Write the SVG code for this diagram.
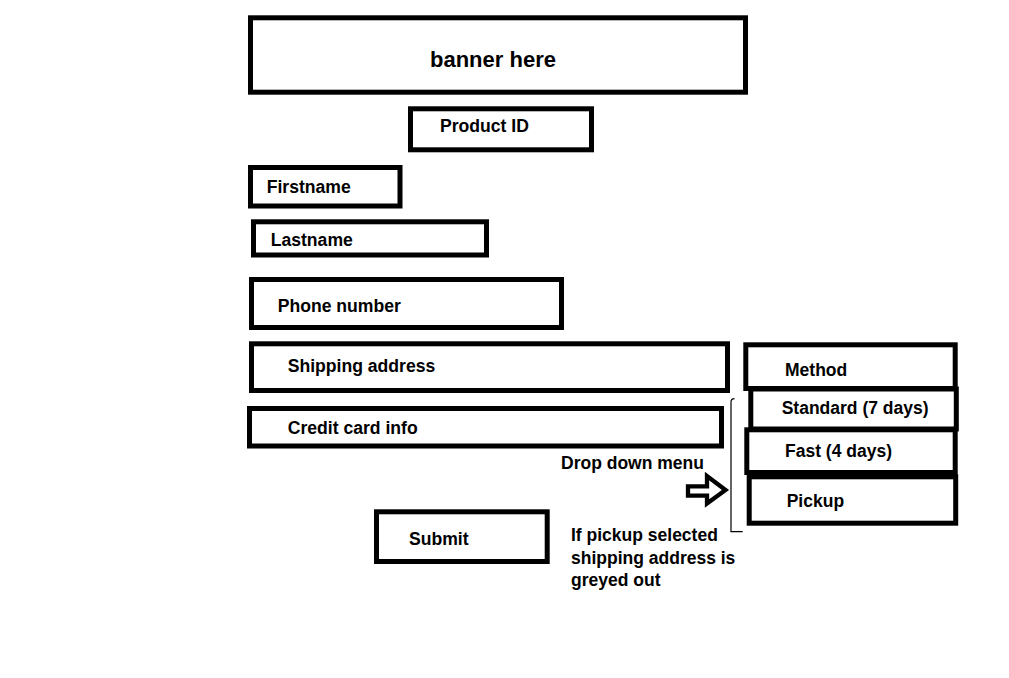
<svg xmlns="http://www.w3.org/2000/svg" width="1009" height="678" viewBox="0 0 1009 678">
<style>
.box{fill:none;stroke:#000;stroke-width:5}
.t{font-family:"Liberation Sans",Arial,sans-serif;font-weight:bold;font-size:17.6px;fill:#000}
.s{font-size:17.5px}
.thin{fill:none;stroke:#000;stroke-width:1.2}
</style>
<rect width="1009" height="678" fill="#fff"/>
<g id="banner"><rect class="box" x="250.5" y="17.8" width="495" height="74.4"/><text class="t" x="430" y="67.3" style="font-size:22px">banner here</text></g>
<g id="product-id"><rect class="box" x="410.5" y="108.8" width="181" height="41"/><text class="t" x="440" y="131.7">Product ID</text></g>
<g id="firstname"><rect class="box" x="250.5" y="167.5" width="149.5" height="38.5"/><text class="t" x="266.7" y="193.3">Firstname</text></g>
<g id="lastname"><rect class="box" x="253.5" y="221.8" width="233" height="33.2"/><text class="t" x="270.7" y="246">Lastname</text></g>
<g id="phone"><rect class="box" x="251.5" y="279.5" width="310" height="48"/><text class="t" x="277.7" y="312.3">Phone number</text></g>
<g id="shipping"><rect class="box" x="251.5" y="343.8" width="476" height="46.7"/><text class="t" x="287.7" y="372">Shipping address</text></g>
<g id="credit"><rect class="box" x="249.5" y="408.5" width="472" height="37.5"/><text class="t" x="287.7" y="434">Credit card info</text></g>
<g id="submit"><rect class="box" x="376.5" y="511.8" width="170.7" height="49.7"/><text class="t" x="409" y="545">Submit</text></g>
<g id="method"><rect class="box" x="745.8" y="344.8" width="209.4" height="43.7"/><text class="t s" x="785" y="375.7">Method</text></g>
<g id="standard"><rect class="box" x="750.8" y="389" width="205.5" height="40"/><text class="t s" x="781.7" y="414.3">Standard (7 days)</text></g>
<g id="fast"><rect class="box" x="746.8" y="429.8" width="208.4" height="42.7"/><text class="t s" x="785" y="457">Fast (4 days)</text></g>
<g id="pickup"><rect class="box" x="749.2" y="476.8" width="206.5" height="46.4"/><text class="t s" x="786.7" y="507.3">Pickup</text></g>
<g id="notes">
<text class="t s" x="561" y="468.8">Drop down menu</text>
<text class="t s" x="571" y="541">If pickup selected</text>
<text class="t s" x="571" y="563.5">shipping address is</text>
<text class="t s" x="571" y="586">greyed out</text>
</g>
<g id="connectors">
<path class="thin" d="M734.5 398.6 Q731 398.6 731 402 L731 531.7 L742.7 531.7"/>
<path d="M688 486.3 L707 486.3 L707 476 L725.5 490 L707 503.5 L707 495.7 L688 495.7 Z" fill="none" stroke="#000" stroke-width="4.3" stroke-linejoin="miter"/>
</g>
</svg>
